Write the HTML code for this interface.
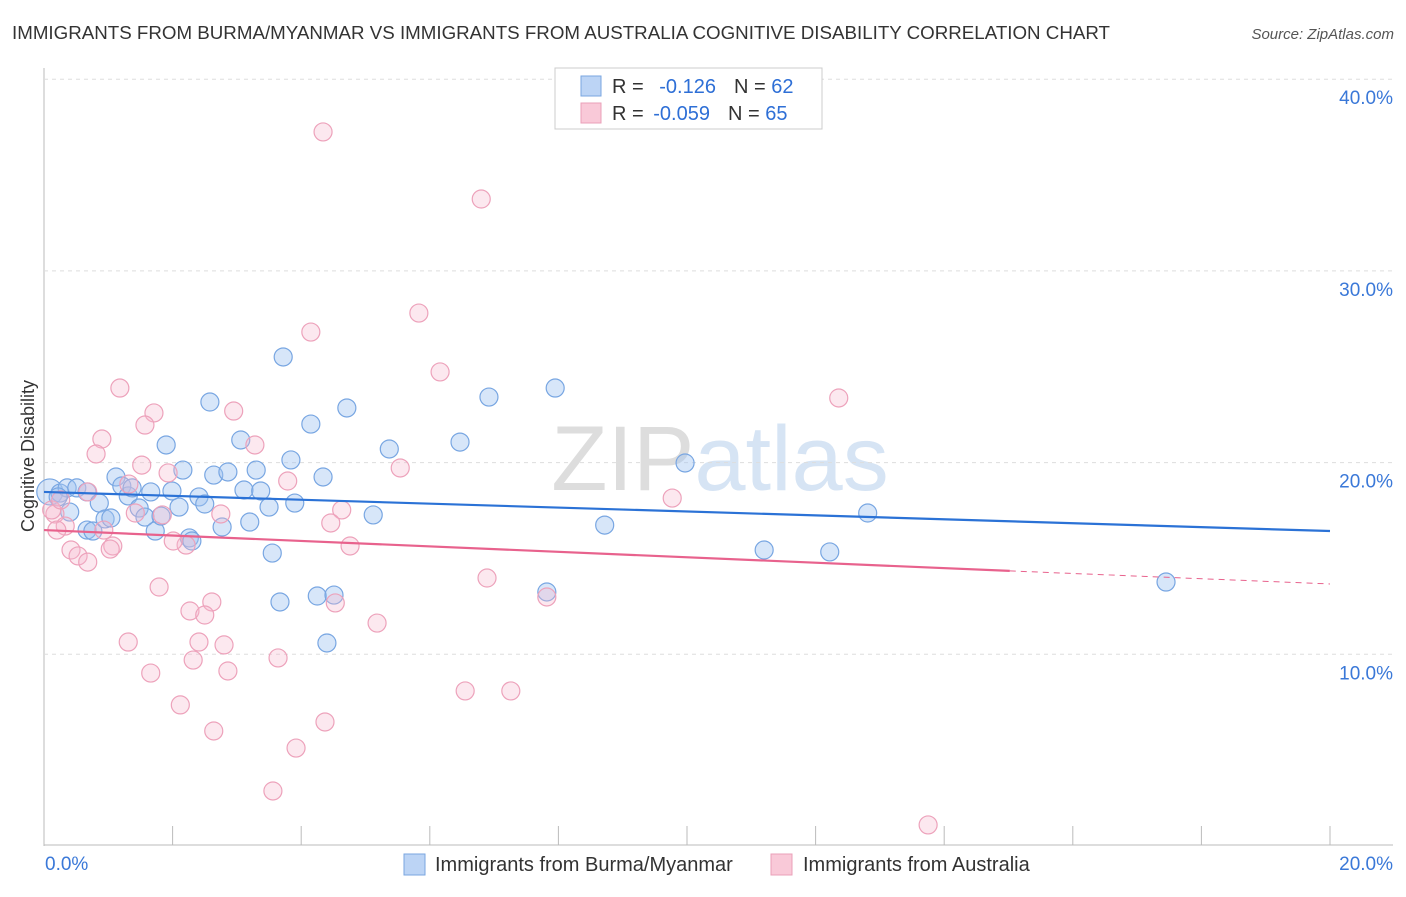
<!DOCTYPE html>
<html><head><meta charset="utf-8"><style>
body{margin:0;background:#fff;font-family:"Liberation Sans",sans-serif}
svg text{font-family:"Liberation Sans",sans-serif}
</style></head><body>
<svg id="c" width="1406" height="892">
<text x="12" y="39" font-size="18" fill="#333" textLength="1098" lengthAdjust="spacingAndGlyphs">IMMIGRANTS FROM BURMA/MYANMAR VS IMMIGRANTS FROM AUSTRALIA COGNITIVE DISABILITY CORRELATION CHART</text>
<text x="1394" y="39" font-size="15" fill="#555" font-style="italic" text-anchor="end">Source: ZipAtlas.com</text>
<text x="720" y="490" font-size="92" fill="#e4e4e4" text-anchor="middle" font-family="Liberation Serif"><tspan fill="#ddd">ZIP</tspan><tspan fill="#d6e4f4" font-family="Liberation Sans">atlas</tspan></text>
<text transform="translate(34,456) rotate(-90)" font-size="18" fill="#333" text-anchor="middle">Cognitive Disability</text>
<g id="grid"></g><g id="pts"></g><g id="lines"></g>
<g>
<rect x="555" y="68" width="267" height="61" fill="#fff" stroke="#ccc"/>
<rect x="581" y="76" width="20" height="20" fill="#bcd4f5" stroke="#7aa6e0"/>
<rect x="581" y="103" width="20" height="20" fill="#f9c9d8" stroke="#eaa0b8"/>
<text x="612" y="93" font-size="20" fill="#333">R = <tspan fill="#2e6fd6" dx="10">-0.126</tspan><tspan dx="18" fill="#333">N = </tspan><tspan fill="#2e6fd6">62</tspan></text>
<text x="612" y="120" font-size="20" fill="#333">R = <tspan fill="#2e6fd6" dx="4">-0.059</tspan><tspan dx="18" fill="#333">N = </tspan><tspan fill="#2e6fd6">65</tspan></text>
</g>
<g>
<rect x="404" y="854" width="21" height="21" fill="#bcd4f5" stroke="#7aa6e0"/>
<text x="435" y="871" font-size="20" fill="#333">Immigrants from Burma/Myanmar</text>
<rect x="771" y="854" width="21" height="21" fill="#f9c9d8" stroke="#eaa0b8"/>
<text x="803" y="871" font-size="20" fill="#333">Immigrants from Australia</text>
</g>
</svg>
<script>
const blueX=[0.09,0.25,0.36,0.51,0.67,0.40,0.22,0.86,0.67,0.76,0.95,1.04,1.12,1.21,1.31,1.37,1.48,1.57,1.66,1.73,1.82,1.90,1.99,2.10,2.16,2.26,2.30,2.41,2.50,2.58,2.64,2.77,2.86,3.06,3.11,3.20,3.30,3.37,3.50,3.55,3.67,3.72,3.84,3.90,4.15,4.25,4.34,4.51,4.40,4.71,5.12,5.37,6.47,6.92,7.82,7.95,8.72,9.97,11.20,12.22,12.81,17.45];
const blueY=[18.47,18.41,18.68,18.68,18.47,17.42,18.21,17.89,16.48,16.43,17.06,17.11,19.25,18.78,18.26,18.68,17.63,17.16,18.47,16.43,17.21,20.92,18.52,17.68,19.61,16.07,15.91,18.21,17.84,23.16,19.35,16.64,19.51,21.18,18.57,16.90,19.61,18.52,17.68,15.28,12.73,25.51,20.14,17.89,22.01,13.04,19.25,13.09,10.59,22.85,17.27,20.71,21.07,23.42,13.25,23.89,16.74,19.98,15.44,15.34,17.37,13.77];
const pinkX=[4.34,6.80,5.83,4.15,6.16,12.36,1.18,1.71,1.57,2.95,0.90,0.81,3.28,5.54,1.52,1.93,1.32,0.68,3.79,9.77,1.42,1.84,2.75,4.63,4.46,0.17,0.33,0.20,0.93,1.07,1.03,0.42,0.53,0.68,2.21,2.01,4.76,6.89,1.79,2.27,2.61,2.50,2.80,2.41,1.31,5.18,4.53,7.82,2.32,3.64,1.66,2.86,6.55,7.26,2.12,4.37,2.64,3.92,3.56,13.75,0.12,0.26];
const pinkY=[37.25,33.75,27.80,26.81,24.73,23.37,23.89,22.59,21.96,22.69,21.23,20.45,20.92,19.72,19.87,19.46,18.88,18.47,19.04,18.15,17.37,17.27,17.32,17.53,16.85,17.32,16.69,16.48,16.48,15.65,15.49,15.44,15.13,14.81,15.70,15.91,15.65,13.98,13.51,12.26,12.73,12.05,10.49,10.64,10.64,11.63,12.68,12.99,9.70,9.81,9.02,9.13,8.09,8.09,7.36,6.47,6.00,5.11,2.87,1.10,17.53,18.05];
const yTicks=[10,20,30,40];
const xTickLabels=["0.0%","20.0%"];
const blueLine=[18.47,16.43];
const pinkLine=[16.48,14.35,13.67];
const X=v=>44+v*64.3, Y=v=>846-v*19.17;
const NS="http://www.w3.org/2000/svg";
function mk(t,a,p){const e=document.createElementNS(NS,t);for(const k in a)e.setAttribute(k,a[k]);p.appendChild(e);return e;}
const g=document.getElementById('grid');
const ax=mk('line',{x1:44,y1:68,x2:44,y2:846,stroke:'#bbb'},g);


const bx=mk('line',{x1:44,y1:845,x2:1393,y2:845,stroke:'#bbb'},g);


yTicks.forEach(t=>{
 const l=mk('line',{x1:44,y1:Y(t),x2:1393,y2:Y(t),stroke:'#ddd','stroke-dasharray':'4,4'},g);
 
 
 const tx=mk('text',{x:1393,y:Y(t)+25,'font-size':19,fill:'#3a78d8','text-anchor':'end'},g);
 tx.textContent=t.toFixed(1)+'%';
 
 
});
for(let i=0;i<=10;i++){
 const l=mk('line',{x1:X(i*2),y1:826,x2:X(i*2),y2:845,stroke:'#bbb'},g);
 
 
}
[[0,45,'start'],[20,1393,'end']].forEach((d,i)=>{
 const tx=mk('text',{x:d[1],y:870,'font-size':19,fill:'#3a78d8','text-anchor':d[2]},g);
 tx.textContent=xTickLabels[i];
 
 
});
const p=document.getElementById('pts');
blueX.forEach((x,i)=>{
 const c=mk('circle',{cx:X(x),cy:Y(blueY[i]),r:i==0?13:9,fill:'rgba(160,195,240,0.42)',stroke:'#78a6e2','stroke-width':1.2},p);
 
 
});
pinkX.forEach((x,i)=>{
 const c=mk('circle',{cx:X(x),cy:Y(pinkY[i]),r:9,fill:'rgba(247,185,205,0.33)',stroke:'#eda2bb','stroke-width':1.2},p);
 
 
});
const L=document.getElementById('lines');
const b=mk('line',{x1:X(0),y1:Y(blueLine[0]),x2:X(20),y2:Y(blueLine[1]),stroke:'#2b72d6','stroke-width':2.2},L);


const pk=mk('line',{x1:X(0),y1:Y(pinkLine[0]),x2:X(15.02),y2:Y(pinkLine[1]),stroke:'#e8628d','stroke-width':2.2},L);


const pd=mk('line',{x1:X(15.02),y1:Y(pinkLine[1]),x2:X(20),y2:Y(pinkLine[2]),stroke:'#e8628d','stroke-width':1,'stroke-dasharray':'6,5'},L);


</script>
</body></html>
